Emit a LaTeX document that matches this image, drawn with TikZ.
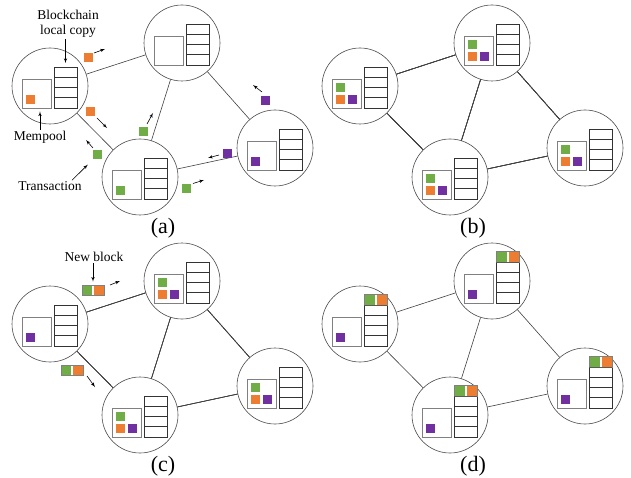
\documentclass[tikz,border=0pt]{standalone}
\usepackage{fontspec}
\setmainfont{Liberation Serif}
\usetikzlibrary{arrows,positioning,calc}

\definecolor{txgreen}{HTML}{70AD47}
\definecolor{txorange}{HTML}{ED7D31}
\definecolor{txpurple}{HTML}{7030A0}

% a peer: circle, empty mempool and a four block local chain
\newcommand{\peer}[2]{%
  \node[peer] (#1) at (#2) {};
  \node[pool] (#1-pool) at ($(#1)+(-13.5,7.5)$) {};
  \foreach \k in {1,...,4}
    \draw[row] ($(#1)+(4,22)-(0,10.25*\k)$) rectangle +(23,10.25);
  \coordinate (#1-chain) at ($(#1)+(15.5,-19)$);
}
% pending transactions in the mempool of a peer (colour/column/row)
\newcommand{\pending}[2]{%
  \foreach \col/\i/\j in {#2}
    \node[tx, fill=\col] at ($(#1-pool.south west)+(8.5+12*\i,-8.5-12*\j)$) {};
}
% the new block on top of the chain of a peer
\newcommand{\topblock}[1]{%
  \node[newblk, minimum width=23pt, minimum height=10.25pt] at ($(#1)+(15.5,-24.1)$) {};
  \draw[row, line width=1pt, draw=black!65] ($(#1)+(4,-19)$) -- +(23,0);
}

\begin{document}
\begin{tikzpicture}[x=1pt, y=-1pt,
    peer/.style={draw=black!70, circle, minimum size=76pt, inner sep=0pt, line width=0.6pt},
    pool/.style={draw=black!50, minimum size=29pt, inner sep=0pt, line width=0.9pt},
    row/.style={draw=black!80, line width=0.7pt},
    tx/.style={minimum size=9pt, inner sep=0pt},
    newblk/.style={draw=black!50, line width=0.7pt, minimum width=22pt, minimum height=10pt, inner sep=0pt,
      path picture={
        \fill[txgreen] (path picture bounding box.south west) rectangle ([xshift=-1pt]path picture bounding box.north);
        \fill[txorange] ([xshift=1pt]path picture bounding box.south) rectangle (path picture bounding box.north east);}},
    link/.style={draw=black!75, line width=0.6pt},
    move/.style={-latex', line width=0.6pt},
    note/.style={font=\fontsize{13.5}{15}\selectfont, align=center, inner sep=1pt},
    tag/.style={font=\fontsize{22}{24}\selectfont}]
  \useasboundingbox (0,0) rectangle (631,478);

  % (a) transactions are broadcast
  \begin{scope}
    \peer{a-A}{50,86}
    \peer{a-B}{182,43}
    \peer{a-C}{140,177}
    \peer{a-D}{275,148}
    \pending{a-A}{txorange/0/0}
    \pending{a-C}{txgreen/0/0}
    \pending{a-D}{txpurple/0/0}
    \foreach \u/\v in {A/B, A/C, B/C, B/D, C/D}
      \draw[link] (a-\u) -- (a-\v);

    \node[tx, fill=txorange] (a-t1) at (88,57.5) {};
    \node[tx, fill=txorange] (a-t2) at (90.5,111.5) {};
    \node[tx, fill=txgreen] (a-t3) at (97.5,155) {};
    \node[tx, fill=txgreen] (a-t4) at (143,131.5) {};
    \node[tx, fill=txgreen] (a-t5) at (186,188.5) {};
    \node[tx, fill=txpurple] (a-t6) at (265,100.5) {};
    \node[tx, fill=txpurple] (a-t7) at (227.5,153.5) {};
    \draw[move] ($(a-t1)+(6,-4.5)$) -- ++(11,-4);
    \draw[move] ($(a-t2)+(6.5,6.5)$) -- ++(10,10);
    \draw[move] ($(a-t3)+(-4.5,-7)$) -- ++(-7,-8);
    \draw[move] ($(a-t4)+(4,-7.5)$) -- ++(6,-11);
    \draw[move] ($(a-t5)+(7,-5)$) -- ++(11,-3.5);
    \draw[move] ($(a-t6)+(-3,-8.5)$) -- ++(-9,-7);
    \draw[move] ($(a-t7)+(-8.5,1.5)$) -- ++(-11,3);

    \node[note] (a-chainlbl) at (68,24) {Blockchain\\local copy};
    \node[note] (a-poollbl) at (40,137) {Mempool};
    \node[note] (a-txlbl) at (50,186) {Transaction};
    \draw[move, shorten >=4pt] (a-chainlbl.south -| a-A-chain) -- (a-A-chain);
    \draw[move, shorten >=3pt] (a-poollbl.north) -- (a-poollbl.north |- a-A-pool.south);
    \draw[move, shorten >=7pt] ($(a-txlbl.north)+(22,0)$) -- (a-t3);
    \node[tag] (a-tag) at (163,228) {(a)};
  \end{scope}

  % (b) every mempool holds all transactions
  \begin{scope}[shift={(310,0)}]
    \peer{b-A}{50,86}
    \peer{b-B}{182,43}
    \peer{b-C}{140,177}
    \peer{b-D}{275,148}
    \foreach \p in {A,B,C,D}
      \pending{b-\p}{txgreen/0/1, txorange/0/0, txpurple/1/0}
    \foreach \u/\v in {A/B, A/C, B/C, B/D, C/D}
      \draw[link] (b-\u) -- (b-\v);
    \node[tag] (b-tag) at (163,228) {(b)};
  \end{scope}

  % (c) a new block is broadcast
  \begin{scope}[shift={(0,238)}]
    \peer{c-A}{50,86}
    \peer{c-B}{182,43}
    \peer{c-C}{140,177}
    \peer{c-D}{275,148}
    \pending{c-A}{txpurple/0/0}
    \foreach \p in {B,C,D}
      \pending{c-\p}{txgreen/0/1, txorange/0/0, txpurple/1/0}
    \foreach \u/\v in {A/B, A/C, B/C, B/D, C/D}
      \draw[link] (c-\u) -- (c-\v);

    \node[newblk] (c-blk1) at (93,52) {};
    \node[newblk] (c-blk2) at (72,132.5) {};
    \draw[move] ($(c-blk1)+(17,-5)$) -- ++(10,-4);
    \draw[move] ($(c-blk2)+(15,5.5)$) -- ++(8,11);
    \node[note] (c-blklbl) at (94,19) {New block};
    \draw[move, shorten >=3pt] (c-blklbl.south -| c-blk1) -- (c-blk1.north);
    \node[tag] (c-tag) at (163,228) {(c)};
  \end{scope}

  % (d) every peer appends the block
  \begin{scope}[shift={(310,238)}]
    \peer{d-A}{50,86}
    \peer{d-B}{182,43}
    \peer{d-C}{140,177}
    \peer{d-D}{275,148}
    \foreach \p in {A,B,C,D} {
      \pending{d-\p}{txpurple/0/0}
      \topblock{d-\p}
    }
    \foreach \u/\v in {A/B, A/C, B/C, B/D, C/D}
      \draw[link] (d-\u) -- (d-\v);
    \node[tag] (d-tag) at (163,228) {(d)};
  \end{scope}
\end{tikzpicture}
\end{document}
